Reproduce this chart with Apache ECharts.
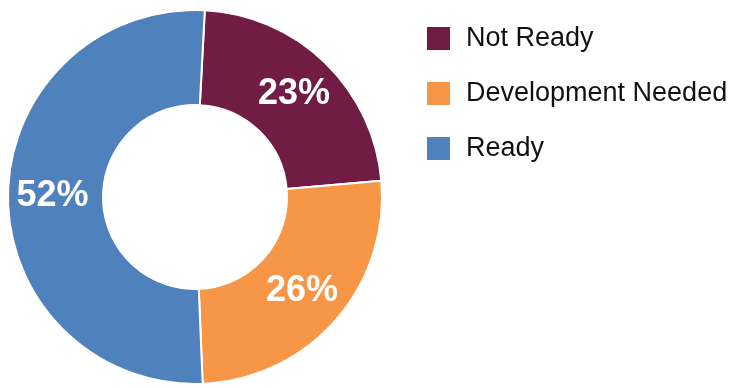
<!DOCTYPE html>
<html>
<head>
<meta charset="utf-8">
<style>
  html, body { margin: 0; padding: 0; background: #ffffff; }
  #chart { width: 740px; height: 388px; }
</style>
<script src="https://cdn.jsdelivr.net/npm/echarts@6/dist/echarts.min.js"></script>
</head>
<body>
<div id="chart"></div>
<script>
// Readiness categories and their shares (percent)
const categories = ['Not Ready', 'Development Needed', 'Ready'];
const shares = [23, 26, 52];
const colors = ['#701C45', '#F79646', '#4F81BD'];

const chart = echarts.init(document.getElementById('chart'), null, { renderer: 'canvas' });

const pieData = categories.map((name, i) => ({
  name: name,
  value: shares[i],
  itemStyle: { color: colors[i] }
}));

chart.setOption({
  animation: false,
  backgroundColor: '#ffffff',
  legend: {
    orient: 'vertical',
    left: 425,
    top: 25,
    padding: 0,
    icon: 'rect',
    itemWidth: 25,
    itemHeight: 25,
    itemGap: 28,
    data: categories,
    textStyle: {
      fontFamily: 'Liberation Sans, Arial, sans-serif',
      fontSize: 27,
      color: '#111111',
      padding: [0, 0, 0, 10]
    }
  },
  series: [{
    type: 'pie',
    center: [195, 197],
    radius: [92, 187],
    startAngle: 87,
    clockwise: true,
    avoidLabelOverlap: false,
    itemStyle: { borderColor: '#ffffff', borderWidth: 2 },
    label: {
      show: true,
      position: 'inside',
      formatter: '{c}%',
      color: '#ffffff',
      fontFamily: 'Liberation Sans, Arial, sans-serif',
      fontWeight: 'bold',
      fontSize: 36
    },
    labelLine: { show: false },
    emphasis: { disabled: true },
    data: pieData
  }]
});
</script>
</body>
</html>
